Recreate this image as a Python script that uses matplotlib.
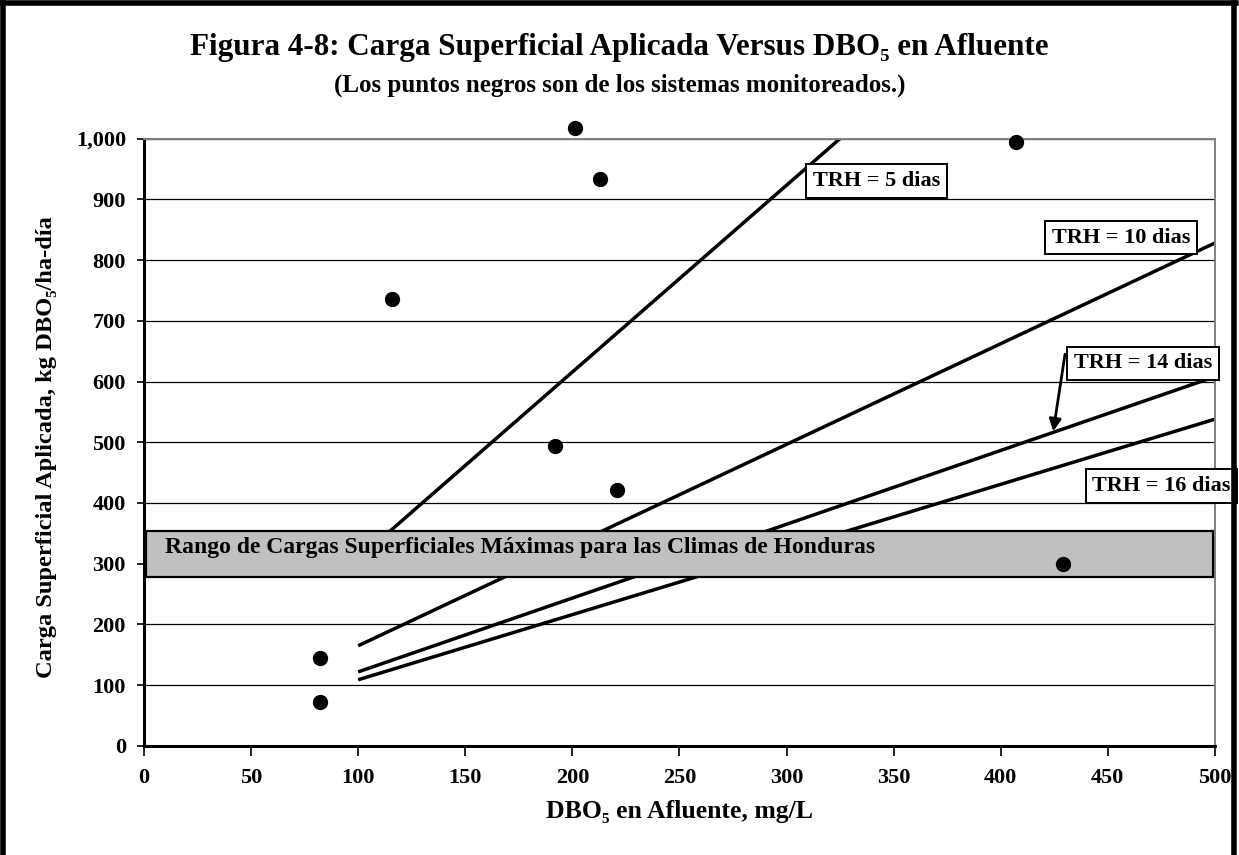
import matplotlib
matplotlib.use("Agg")
import matplotlib.pyplot as plt
from matplotlib.patches import Rectangle
from matplotlib.ticker import FuncFormatter

# ---- data ----
dots_x = [82, 82, 116, 192, 201, 213, 221, 407, 429]
dots_y = [145, 72, 735, 494, 1018, 933, 421, 994, 299]

trh_labels = ["TRH = 5 dias", "TRH = 10 dias", "TRH = 14 dias", "TRH = 16 dias"]
trh_x_start = [100, 100, 100, 100]
trh_x_end = [325, 500, 500, 500]
trh_y_start = [308, 165, 122, 109]
trh_y_end = [1000, 828, 608, 538]

band_low, band_high = 279, 354
band_x = [1, 499]
band_label = "Rango de Cargas Superficiales Máximas para las Climas de Honduras"

x_ticks = [0, 50, 100, 150, 200, 250, 300, 350, 400, 450, 500]
y_ticks = [0, 100, 200, 300, 400, 500, 600, 700, 800, 900, 1000]

title = "Figura 4-8: Carga Superficial Aplicada Versus DBO₅ en Afluente"
subtitle = "(Los puntos negros son de los sistemas monitoreados.)"
xlabel = "DBO₅ en Afluente, mg/L"
ylabel = "Carga Superficial Aplicada, kg DBO₅/ha-día"

SERIF = ["Liberation Serif", "DejaVu Serif"]
plt.rcParams["font.family"] = SERIF
plt.rcParams["font.weight"] = "bold"

fig = plt.figure(figsize=(12.39, 8.55), dpi=100)
ax = fig.add_axes([0.1162, 0.1275, 0.8644, 0.7105])

ax.set_xlim(0, 500)
ax.set_ylim(0, 1000)
ax.set_xticks(x_ticks)
ax.set_yticks(y_ticks)
ax.yaxis.set_major_formatter(FuncFormatter(lambda v, p: f"{int(v):,}"))
ax.tick_params(axis="both", direction="out", labelsize=16, width=1.2, colors="black")
ax.tick_params(axis="y", length=5, pad=8)
ax.tick_params(axis="x", length=7, pad=9)
for lab in ax.get_xticklabels() + ax.get_yticklabels():
    lab.set_fontweight("bold")

ax.grid(axis="y", color="black", lw=0.9, zorder=0)
ax.set_axisbelow(True)

for s in ["left", "bottom"]:
    ax.spines[s].set_linewidth(2.2)
    ax.spines[s].set_color("black")
for s in ["right", "top"]:
    ax.spines[s].set_linewidth(1.4)
    ax.spines[s].set_color("#808080")

# TRH lines
for xs, xe, ys, ye in zip(trh_x_start, trh_x_end, trh_y_start, trh_y_end):
    ax.plot([xs, xe], [ys, ye], color="black", lw=2.5, solid_capstyle="butt", zorder=2)

# band
ax.add_patch(Rectangle((band_x[0], band_low), band_x[1] - band_x[0], band_high - band_low,
                       facecolor="#c0c0c0", edgecolor="black", lw=1.6, zorder=3))
ax.text(10, 327, band_label, fontsize=17, fontweight="bold", va="center", ha="left", zorder=4)

# dots
ax.scatter(dots_x, dots_y, s=100, color="black", zorder=5, clip_on=False)

# labels boxes
box_pos = [(342, 930), (456, 837), (466.5, 630), (475, 428)]
for lab, (bx, by) in zip(trh_labels, box_pos):
    ax.text(bx, by, lab, fontsize=16, fontweight="bold", ha="center", va="center", zorder=6,
            clip_on=False,
            bbox=dict(boxstyle="square,pad=0.3", facecolor="white", edgecolor="black", lw=1.4))

# arrow for 14 days
ax.annotate("", xy=(424.5, 518), xytext=(430, 645),
            arrowprops=dict(arrowstyle="-|>", color="black", lw=2, mutation_scale=18,
                            shrinkA=0, shrinkB=0), zorder=6)

# text
fig.text(0.5, 1 - 47 / 855, title, ha="center", va="center", fontsize=22.4, fontweight="bold")
fig.text(0.5, 1 - 85 / 855, subtitle, ha="center", va="center", fontsize=18, fontweight="bold")
fig.text((144 + 1215) / 2 / 1239, 1 - 811 / 855, xlabel, ha="center", va="center",
         fontsize=18.5, fontweight="bold")
fig.text(47 / 1239, 1 - 447 / 855, ylabel, ha="center", va="center", rotation=90,
         fontsize=17.6, fontweight="bold")

# outer frame (left, top, right)
fig.add_artist(plt.Line2D([3 / 1239, 3 / 1239], [0, 1 - 3 / 855], transform=fig.transFigure,
                          color="black", lw=4))
fig.add_artist(plt.Line2D([1 / 1239, 1236 / 1239], [1 - 3 / 855, 1 - 3 / 855],
                          transform=fig.transFigure, color="black", lw=4))
fig.add_artist(plt.Line2D([1234 / 1239, 1234 / 1239], [0, 1 - 3 / 855], transform=fig.transFigure,
                          color="black", lw=4))

fig.savefig("out.png", dpi=100)
